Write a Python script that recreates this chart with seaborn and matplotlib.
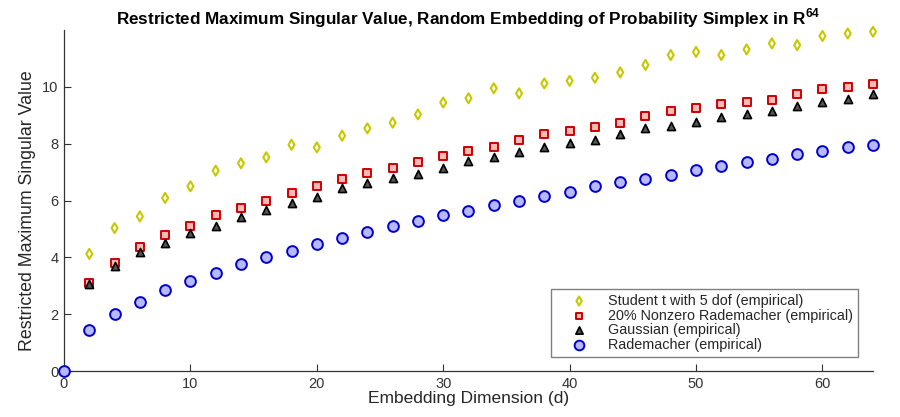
import matplotlib
matplotlib.use("Agg")
import matplotlib.pyplot as plt
import seaborn as sns
import pandas as pd

d_all = list(range(0, 66, 2))
d_rest = list(range(2, 66, 2))

student_t = [4.12, 5.03, 5.44, 6.09, 6.50, 7.05, 7.31, 7.52, 7.96, 7.87, 8.28, 8.54, 8.74, 9.03,
             9.45, 9.60, 9.95, 9.77, 10.12, 10.21, 10.32, 10.51, 10.77, 11.12, 11.23, 11.12,
             11.32, 11.53, 11.47, 11.79, 11.88, 11.94]
sparse_rad = [3.10, 3.81, 4.36, 4.77, 5.12, 5.48, 5.73, 5.98, 6.25, 6.50, 6.75, 6.96, 7.16, 7.36,
              7.57, 7.73, 7.87, 8.13, 8.33, 8.43, 8.59, 8.74, 8.99, 9.15, 9.25, 9.40, 9.45,
              9.54, 9.75, 9.91, 10.01, 10.11]
gaussian = [3.07, 3.70, 4.20, 4.52, 4.87, 5.12, 5.43, 5.68, 5.93, 6.14, 6.44, 6.60, 6.80, 6.95,
            7.16, 7.40, 7.52, 7.72, 7.87, 8.02, 8.13, 8.33, 8.54, 8.63, 8.78, 8.94, 9.04, 9.15,
            9.34, 9.45, 9.56, 9.75]
rademacher = [0.0, 1.43, 1.99, 2.44, 2.84, 3.15, 3.46, 3.77, 4.01, 4.21, 4.47, 4.68, 4.88, 5.09,
              5.29, 5.49, 5.64, 5.85, 6.00, 6.15, 6.30, 6.50, 6.65, 6.76, 6.91, 7.06, 7.22,
              7.37, 7.47, 7.63, 7.73, 7.88, 7.97]

labels = ["Student t with 5 dof (empirical)", "20% Nonzero Rademacher (empirical)",
          "Gaussian (empirical)", "Rademacher (empirical)"]
x_ticks = [0, 10, 20, 30, 40, 50, 60]
y_ticks = [0, 2, 4, 6, 8, 10]

sns.set_style("ticks")
plt.rcParams['font.family'] = ['Liberation Sans', 'DejaVu Sans']
plt.rcParams['mathtext.fontset'] = 'custom'
plt.rcParams['mathtext.rm'] = 'Liberation Sans'
plt.rcParams['mathtext.bf'] = 'Liberation Sans:bold'
plt.rcParams['xtick.direction'] = 'in'
plt.rcParams['ytick.direction'] = 'in'

fig = plt.figure(figsize=(9, 4.17), dpi=100)
ax = fig.add_axes([0.0711, 0.1103, 0.8989, 0.8177])

df_t = pd.DataFrame({"d": d_rest, "v": student_t})
df_s = pd.DataFrame({"d": d_rest, "v": sparse_rad})
df_g = pd.DataFrame({"d": d_rest, "v": gaussian})
df_r = pd.DataFrame({"d": d_all, "v": rademacher})

sns.scatterplot(data=df_t, x="d", y="v", ax=ax, marker="d", s=26, facecolor="none",
                edgecolor="#c8c800", linewidth=1.5, label=labels[0], zorder=3, clip_on=False)
sns.scatterplot(data=df_s, x="d", y="v", ax=ax, marker="s", s=30, facecolor="#ffb8b8",
                edgecolor="#cc0000", linewidth=1.4, label=labels[1], zorder=3, clip_on=False)
sns.scatterplot(data=df_g, x="d", y="v", ax=ax, marker="^", s=34, facecolor="#555555",
                edgecolor="#000000", linewidth=1.2, label=labels[2], zorder=3, clip_on=False)
sns.scatterplot(data=df_r, x="d", y="v", ax=ax, marker="o", s=60, facecolor="#b8b8ff",
                edgecolor="#0000cc", linewidth=1.4, label=labels[3], zorder=6, clip_on=False)

ax.set_xlim(0, 64)
ax.set_ylim(0, 12)
ax.set_xticks(x_ticks)
ax.set_yticks(y_ticks)
ax.tick_params(axis='both', labelsize=10.5, length=5, width=0.8, colors="#333333", pad=4)
for side in ["top", "right"]:
    ax.spines[side].set_visible(False)
for side in ["left", "bottom"]:
    ax.spines[side].set_color("#333333")
    ax.spines[side].set_linewidth(0.9)
    ax.spines[side].set_zorder(5)

ax.set_xlabel("Embedding Dimension (d)", fontsize=12.5, color="#262626", labelpad=0)
ax.set_ylabel("Restricted Maximum Singular Value", fontsize=12.8, color="#262626")
ax.yaxis.set_label_coords(-0.034, 0.47)
ax.set_title(r"Restricted Maximum Singular Value, Random Embedding of Probability Simplex in R$^{\mathbf{64}}$",
             fontsize=12.3, fontweight="bold", color="#000000", pad=3)

leg = ax.legend(loc="lower right", bbox_to_anchor=(0.9815, 0.041), fontsize=10.4, frameon=True,
                fancybox=False, edgecolor="#808080", framealpha=1, borderpad=0.35,
                labelspacing=0.05, handlelength=3.2, handletextpad=0.4, borderaxespad=0,
                markerscale=0.9)
leg.get_frame().set_linewidth(1.0)

sns.despine(ax=ax)
fig.savefig("out.png", dpi=100)
